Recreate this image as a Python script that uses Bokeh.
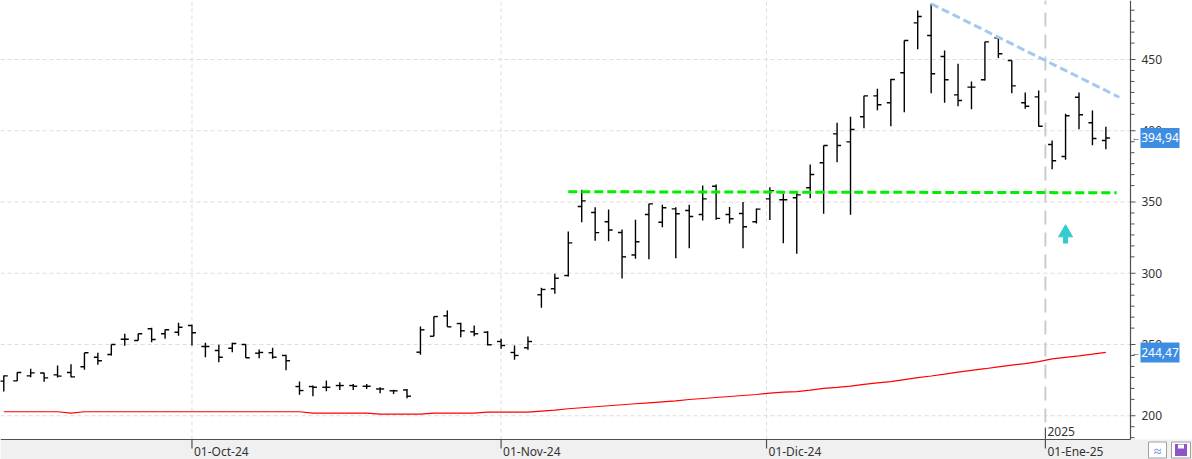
from bokeh.plotting import figure
from bokeh.models import ColumnDataSource
from bokeh.core.properties import value
from bokeh.embed import file_html
from bokeh.resources import INLINE

# ---------------- data ----------------
bar_index = list(range(83))
opens = [224.3, 224.5, 228.0, 230.0, 228.7, 230.4, 234.4, 241.1, 243.0, 253.7,
         252.8, 261.0, 257.5, 258.6, 263.3, 248.6, 245.8, 247.4, 250.0, 243.9,
         244.2, 242.3, 220.5, 220.5, 220.0, 221.2, 221.2, 220.7, 218.8, 217.5,
         218.1, 244.6, 255.8, 270.1, 264.7, 258.9, 258.6, 252.1, 244.4, 247.7,
         284.9, 289.1, 298.4, 346.8, 342.6, 336.1, 328.6, 312.8, 341.2, 335.8,
         345.2, 344.0, 341.2, 361.1, 341.2, 341.9, 336.1, 352.2, 351.6, 353.0,
         360.0, 377.5, 397.8, 392.2, 409.8, 424.5, 419.6, 440.7, 475.7, 466.8,
         452.1, 425.2, 430.6, 435.8, 465.2, 449.3, 419.6, 423.8, 390.4, 381.9,
         423.5, 405.6, 393.2]
highs = [228.2, 230.6, 232.9, 230.1, 235.3, 236.2, 244.2, 244.2, 250.0, 257.5,
         257.5, 261.7, 260.5, 265.2, 263.8, 251.2, 249.8, 251.2, 250.0, 246.5,
         247.7, 242.8, 224.0, 221.2, 224.7, 223.5, 222.3, 222.3, 220.0, 218.2,
         218.8, 262.6, 269.6, 273.9, 265.2, 263.3, 259.4, 254.0, 249.3, 255.6,
         289.8, 299.6, 329.3, 358.6, 346.3, 344.7, 330.7, 337.6, 348.7, 348.0,
         346.3, 348.0, 361.6, 362.3, 346.5, 350.0, 345.4, 360.4, 355.8, 356.3,
         376.3, 389.6, 405.6, 409.8, 424.5, 429.4, 436.4, 463.3, 484.4, 489.1,
         456.3, 447.0, 434.6, 462.4, 465.2, 449.3, 426.8, 428.2, 393.2, 411.9,
         426.8, 414.2, 402.8]
lows = [217.0, 224.3, 227.1, 223.8, 226.8, 227.1, 232.2, 235.8, 242.3, 249.1,
        252.8, 251.6, 254.0, 256.1, 249.3, 241.1, 237.6, 244.6, 240.7, 240.4,
        240.0, 232.0, 214.7, 213.7, 217.2, 218.1, 218.1, 218.8, 215.8, 215.2,
        212.2, 242.8, 255.8, 262.4, 255.1, 255.8, 249.3, 247.0, 239.3, 246.3,
        275.8, 285.6, 297.7, 335.8, 322.8, 322.4, 296.3, 310.2, 309.9, 332.3,
        310.6, 317.6, 337.0, 337.5, 334.9, 317.6, 334.9, 337.3, 321.1, 313.6,
        352.7, 341.7, 377.9, 341.0, 401.8, 414.4, 403.2, 413.0, 457.2, 426.4,
        419.6, 417.2, 415.1, 435.3, 451.0, 426.4, 415.4, 402.9, 373.0, 379.6,
        401.1, 389.9, 387.1]
closes = [228.0, 230.4, 230.1, 226.6, 227.8, 227.3, 244.2, 238.6, 250.0, 253.7,
          257.5, 253.5, 260.3, 262.1, 258.2, 248.6, 241.1, 250.7, 240.7, 244.4,
          241.1, 238.6, 217.7, 220.0, 220.0, 221.2, 220.7, 220.7, 218.8, 217.5,
          213.7, 260.3, 269.6, 262.4, 259.6, 257.5, 249.8, 249.3, 242.3, 252.1,
          288.6, 296.5, 321.3, 350.8, 328.5, 330.4, 311.5, 322.1, 348.7, 346.0,
          341.7, 339.8, 352.2, 338.5, 338.2, 332.6, 345.0, 358.0, 351.6, 355.0,
          369.3, 389.6, 389.6, 400.9, 424.5, 418.2, 436.0, 463.3, 480.2, 440.0,
          435.8, 421.2, 430.6, 462.4, 454.0, 431.5, 417.2, 403.2, 378.9, 410.5,
          411.2, 394.6, 394.94]
moving_avg = [202.8, 202.8, 202.8, 202.8, 202.8, 201.9, 202.8, 202.8, 202.8, 202.8,
              202.8, 202.8, 202.8, 202.8, 202.8, 202.8, 202.8, 202.8, 202.8, 202.8,
              202.8, 202.8, 202.8, 201.9, 201.9, 201.9, 201.9, 201.9, 201.2, 201.2,
              201.2, 201.2, 201.9, 201.9, 201.9, 201.9, 202.6, 202.6, 202.6, 202.6,
              203.3, 204.0, 204.9, 205.6, 206.3, 207.0, 207.7, 208.4, 209.1, 209.8,
              210.5, 211.4, 212.1, 212.8, 213.5, 214.2, 214.9, 215.9, 216.6, 216.9,
              218.0, 219.2, 219.9, 220.8, 222.0, 223.0, 224.0, 225.4, 226.8, 227.9,
              229.2, 230.6, 231.8, 233.0, 234.3, 235.5, 236.6, 238.0, 239.9, 241.0,
              242.0, 243.2, 244.47]

x_tick_pos = [14, 37, 56.75, 77.5]
x_tick_labels = ["01-Oct-24", "01-Nov-24", "01-Dic-24", "01-Ene-25"]
y_ticks = [200, 250, 300, 350, 400, 450]
y_tick_labels = ["200", "250", "300", "350", "400", "450"]
year_pos = 77.5
year_label = "2025"

support_x = [42, 82.8]
support_y = [357.2, 356.5]
resist_x = [69, 83.0]
resist_y = [489.1, 423.5]

signal_x = [79]
signal_head_y = [328.4]
signal_shaft_top = [325.8]
signal_shaft_bottom = [320.9]

last_close = 394.94
last_ma = 244.47

# ---------------- layout (canvas pixels -> data) ----------------
W, H = 1192, 459
PXU = 13.44          # pixels per bar
PYU = 1.425          # pixels per price unit
X0 = -0.2455
Y1 = 491.4
X1 = X0 + W / PXU
Y0 = Y1 - H / PYU


def xd(px):
    return X0 + px / PXU


def yd(py):
    return Y1 - py / PYU


XA = xd(1130)        # right edge of plotting area (price axis line)
YA = yd(439)         # bottom edge of plotting area (time axis line)
FONT = value("Noto Sans")
AX = "#505050"
TXT = "#333333"

p = figure(width=W, height=H, x_range=(X0, X1), y_range=(Y0, Y1),
           x_axis_location=None, y_axis_location=None,
           output_backend="svg", toolbar_location=None,
           min_border_left=0, min_border_right=0, min_border_top=0, min_border_bottom=0)
p.outline_line_color = None
p.grid.visible = False
p.background_fill_color = "white"
p.border_fill_color = "white"

# bottom strip
p.quad(left=[X0], right=[X1], bottom=[Y0], top=[YA], fill_color="#f0f0f0", line_color=None)

# grid
p.segment(x0=[X0] * len(y_ticks), y0=y_ticks, x1=[XA] * len(y_ticks), y1=y_ticks,
          line_color="#dddddd", line_width=1, line_dash="4 3")
p.segment(x0=x_tick_pos[:3], y0=[YA] * 3, x1=x_tick_pos[:3], y1=[Y1] * 3,
          line_color="#dddddd", line_width=1, line_dash="4 3")
# year separator
p.segment(x0=[year_pos], y0=[yd(422)], x1=[year_pos], y1=[Y1], line_color="#cccccc",
          line_width=2, line_dash="14 8")

# moving average
p.line(bar_index, moving_avg, line_color="#ff0000", line_width=1.2)

# OHLC bars
TW = 0.3
src = ColumnDataSource(dict(
    x=bar_index, o=opens, h=highs, l=lows, c=closes,
    xl=[i - TW for i in bar_index], xr=[i + TW for i in bar_index]))
p.segment(x0="x", y0="l", x1="x", y1="h", source=src, line_color="black", line_width=1.4)
p.segment(x0="xl", y0="o", x1="x", y1="o", source=src, line_color="black", line_width=1.4)
p.segment(x0="x", y0="c", x1="xr", y1="c", source=src, line_color="black", line_width=1.4)

# trend lines
p.line(support_x, support_y, line_color="#00ee00", line_width=3, line_dash="9 4")
p.line(resist_x, resist_y, line_color="#a6c8ee", line_width=3, line_dash="8 4")

# signal arrow
p.segment(x0=signal_x, y0=signal_shaft_bottom, x1=signal_x, y1=signal_shaft_top,
          line_color="#33cccc", line_width=5)
p.scatter(signal_x, signal_head_y, marker="triangle", size=14, fill_color="#33cccc",
          line_color="#33cccc")

# axis lines
p.segment(x0=[X0, XA], y0=[YA, YA], x1=[XA, XA], y1=[YA, Y1], line_color=AX, line_width=1.2)

# price axis ticks and labels
minor = [m - 7.7 * k for m in range(200, 551, 50) for k in range(1, 6)]
minor = [v for v in minor if YA < v < Y1]
p.segment(x0=[XA] * len(y_ticks), y0=y_ticks, x1=[XA + 5 / PXU] * len(y_ticks), y1=y_ticks,
          line_color=AX, line_width=1)
p.segment(x0=[XA] * len(minor), y0=minor, x1=[XA + 4 / PXU] * len(minor), y1=minor,
          line_color=AX, line_width=1)
p.text(x=[xd(1141)] * len(y_ticks), y=y_ticks, text=y_tick_labels, text_font=FONT,
       text_font_size="12px", text_color=TXT, text_baseline="middle", text_align="left")

# time axis ticks and labels
n = len(x_tick_pos)
p.segment(x0=x_tick_pos, y0=[YA] * n, x1=x_tick_pos, y1=[YA - 9 / PYU] * n,
          line_color=AX, line_width=1.2)
p.text(x=x_tick_pos, y=[yd(451)] * n, text=x_tick_labels, x_offset=2, text_font=FONT,
       text_font_size="12px", text_color=TXT, text_baseline="middle", text_align="left")

# year marker
p.segment(x0=[year_pos], y0=[yd(427)], x1=[year_pos], y1=[YA], line_color=AX, line_width=1.2)
p.text(x=[year_pos], y=[yd(431)], text=[year_label], x_offset=2, text_font=FONT,
       text_font_size="12px", text_color=TXT, text_baseline="middle", text_align="left")

# price tags
tags = [last_close, last_ma]
tag_txt = [f"{v:.2f}".replace(".", ",") for v in tags]
p.rect(x=[xd(1159.5)] * 2, y=tags, width=39, height=20, width_units="screen",
       height_units="screen", fill_color="#3d8ee3", line_color=None)
p.text(x=[xd(1159.5)] * 2, y=tags, text=tag_txt, text_font=FONT, text_font_size="12px",
       text_color="white", text_baseline="middle", text_align="center")
p.text(x=[xd(1131)] * 2, y=tags, text=["\u2190"] * 2, text_font=FONT, text_font_size="9px",
       text_color="#555555", text_baseline="middle", text_align="left")

# corner icons
p.rect(x=[xd(1157), xd(1180.5)], y=[yd(449.5)] * 2, width=[18, 19], height=16,
       width_units="screen", height_units="screen", fill_color="white", line_color="#a0a0a0")
p.text(x=[xd(1157)], y=[yd(449.5)], text=["\u2248"], text_font=FONT, text_font_size="14px",
       text_color="#4a86c8", text_baseline="middle", text_align="center")
p.rect(x=[xd(1180.5)], y=[yd(449.5)], width=12, height=12, width_units="screen",
       height_units="screen", fill_color="#8e55c8", line_color=None)
p.rect(x=[xd(1180.5)], y=[yd(446)], width=6, height=4, width_units="screen",
       height_units="screen", fill_color="white", line_color=None)

open("out.html", "w").write(file_html(p, INLINE))
